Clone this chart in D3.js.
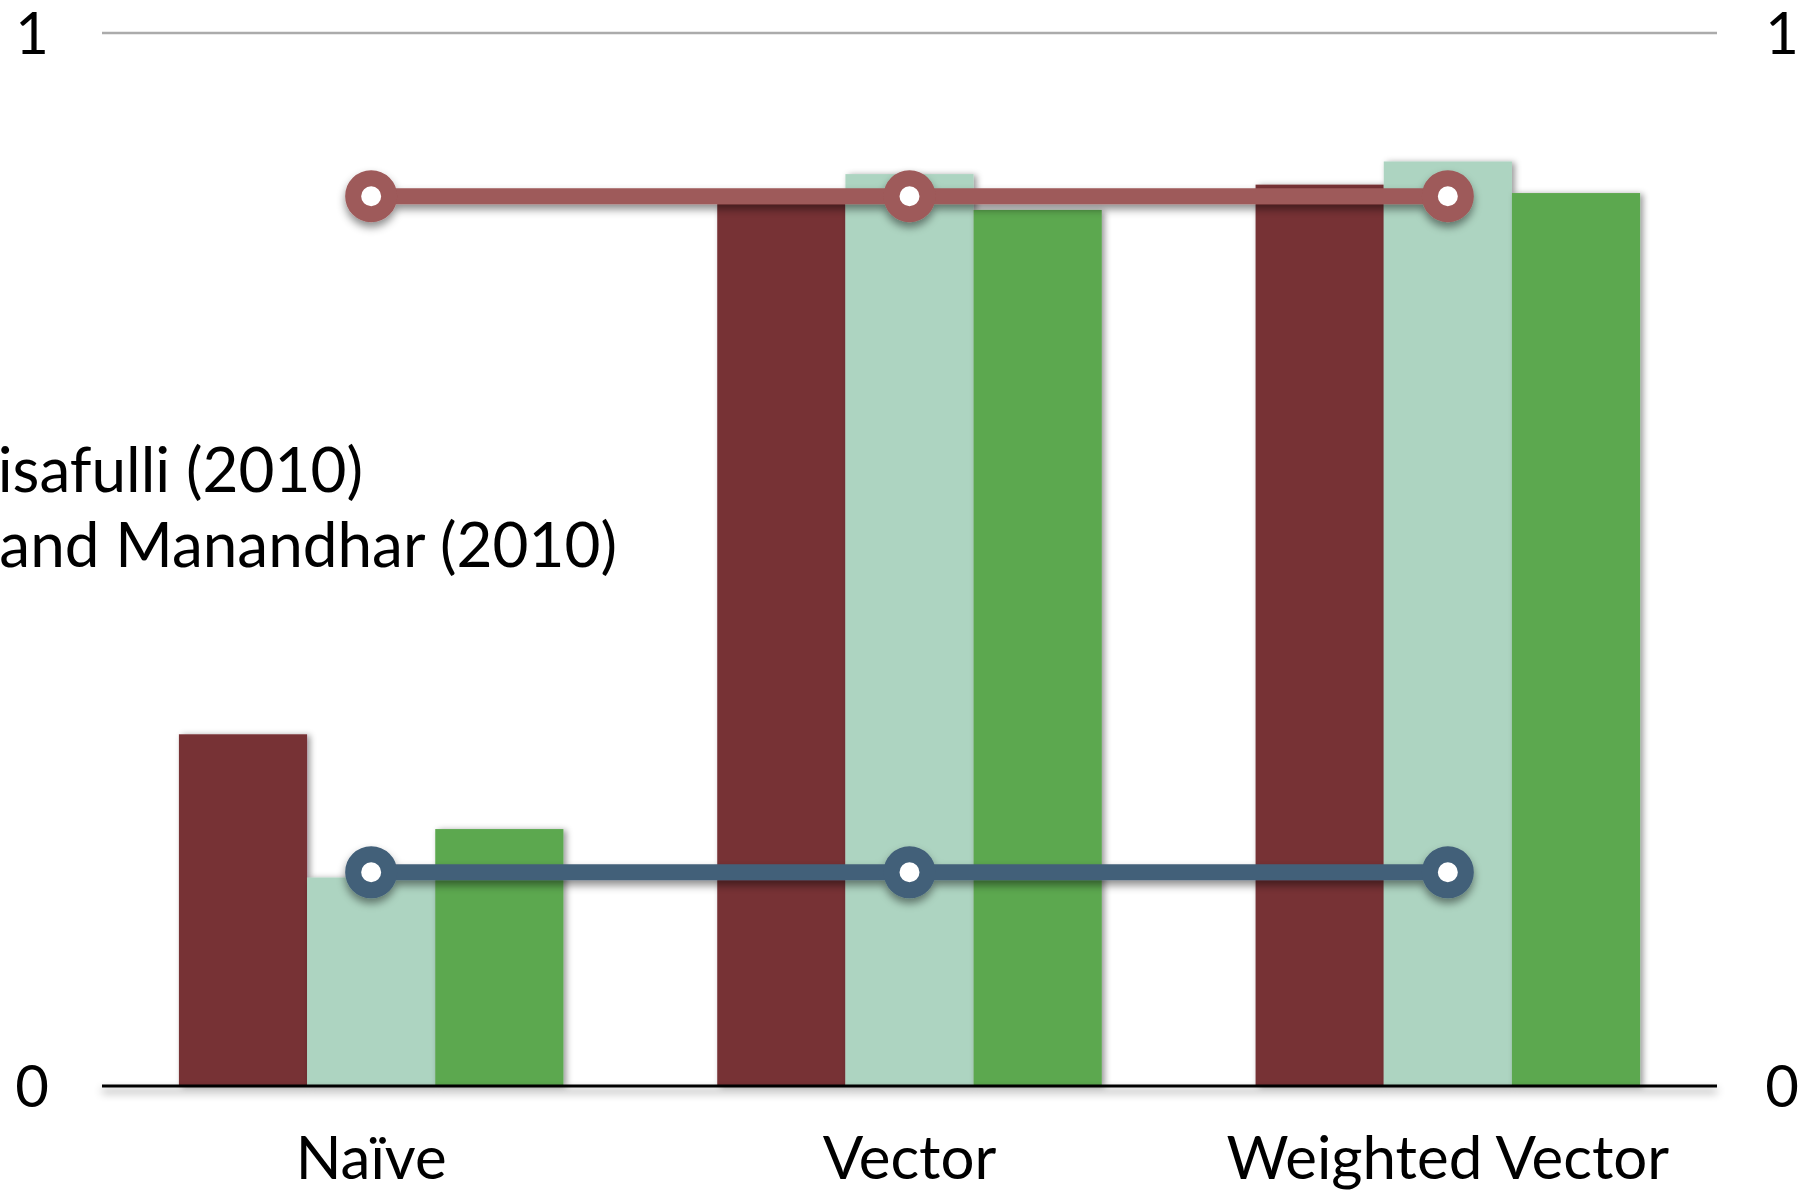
<!DOCTYPE html>
<html>
<head>
<meta charset="utf-8">
<script src="https://cdn.jsdelivr.net/npm/d3@7"></script>
<style>
  html, body { margin: 0; padding: 0; background: #fff; }
  svg { display: block; }
  text { font-family: Lato, "Open Sans", sans-serif; fill: #000; }
</style>
</head>
<body>
<svg id="chart" width="1805" height="1191"></svg>
<script>
// Methods compared on the x axis
const categories = ["Naïve", "Vector", "Weighted Vector"];
// Bar series (one value per method)
const seriesNames = ["s1", "s2", "s3"];
const seriesA = [0.334, 0.838, 0.856];
const seriesB = [0.198, 0.866, 0.878];
const seriesC = [0.244, 0.832, 0.848];
// Reference systems drawn as flat lines across the methods
const refUpper = [0.845, 0.845, 0.845];
const refLower = [0.203, 0.203, 0.203];
// Legend entries (the left part runs off the page)
const legendLines = ["isafulli (2010)", "and Manandhar (2010)"];
// Axis ticks
const yTicks = [0, 1];

const barColors = ["#773035", "#add4c1", "#5ca84f"];
const upperColor = "#9e5a5a";
const lowerColor = "#436079";

const svg = d3.select("#chart");
const plotLeft = 102, plotRight = 1717, plotTop = 33, plotBottom = 1086;

const defs = svg.append("defs");
defs.append("filter").attr("id", "barShadow")
  .attr("x", "-10%").attr("y", "-10%").attr("width", "130%").attr("height", "130%")
  .append("feDropShadow")
  .attr("dx", 3).attr("dy", 1).attr("stdDeviation", 3)
  .attr("flood-color", "#000").attr("flood-opacity", 0.4);
// Shadow for thin strokes: region given in page units so flat lines still render
defs.append("filter").attr("id", "lineShadow")
  .attr("filterUnits", "userSpaceOnUse")
  .attr("x", 0).attr("y", 0).attr("width", 1805).attr("height", 1191)
  .append("feDropShadow")
  .attr("dx", 0).attr("dy", 5).attr("stdDeviation", 4)
  .attr("flood-color", "#000").attr("flood-opacity", 0.45);

const x0 = d3.scaleBand().domain(categories).range([plotLeft, plotRight]).padding(0);
const x1 = d3.scaleBand().domain(seriesNames).range([0, x0.bandwidth()])
  .paddingInner(0).paddingOuter(0.6);
const y = d3.scaleLinear().domain([0, 1]).range([plotBottom, plotTop]);

// Top gridline at 1
svg.append("line")
  .attr("x1", plotLeft).attr("x2", plotRight)
  .attr("y1", y(1)).attr("y2", y(1))
  .attr("stroke", "#ababab").attr("stroke-width", 2.5);

// Bars
const series = [seriesA, seriesB, seriesC];
const barRows = categories.map((c, i) => seriesNames.map((s, j) => ({ c, s, v: series[j][i], color: barColors[j] })));
const gBars = svg.append("g");
barRows.forEach(row => {
  gBars.selectAll(null).data(row).enter().append("rect")
    .attr("x", d => x0(d.c) + x1(d.s))
    .attr("y", d => y(d.v))
    .attr("width", x1.bandwidth())
    .attr("height", d => y(0) - y(d.v))
    .attr("fill", d => d.color)
    .attr("filter", "url(#barShadow)");
});

// Baseline axis
svg.append("line")
  .attr("x1", plotLeft).attr("x2", plotRight)
  .attr("y1", y(0)).attr("y2", y(0))
  .attr("stroke", "#000").attr("stroke-width", 3)
  .attr("filter", "url(#lineShadow)");

// Reference lines with ring markers
function drawRef(values, color) {
  const g = svg.append("g").attr("filter", "url(#lineShadow)");
  const pts = categories.map((c, i) => [x0(c) + x0.bandwidth() / 2, y(values[i])]);
  g.append("path")
    .attr("d", d3.line()(pts))
    .attr("fill", "none").attr("stroke", color).attr("stroke-width", 16);
  g.selectAll("circle").data(pts).enter().append("circle")
    .attr("cx", d => d[0]).attr("cy", d => d[1])
    .attr("r", 18).attr("fill", "#fff")
    .attr("stroke", color).attr("stroke-width", 16);
}
drawRef(refUpper, upperColor);
drawRef(refLower, lowerColor);

// Y tick labels on both sides
const yAxisL = d3.axisLeft(y).tickValues(yTicks).tickFormat(d3.format("d")).tickSize(0).tickPadding(0);
const yAxisR = d3.axisRight(y).tickValues(yTicks).tickFormat(d3.format("d")).tickSize(0).tickPadding(0);
const gl = svg.append("g").attr("transform", "translate(32,0)").call(yAxisL);
const gr = svg.append("g").attr("transform", "translate(1782,0)").call(yAxisR);
[gl, gr].forEach(g => {
  g.select(".domain").remove();
  g.selectAll("text")
    .attr("text-anchor", "middle").attr("dy", "0.36em")
    .style("font-family", "Lato, sans-serif").style("font-size", "58px").attr("fill", "#000");
});

// Category labels
const xAxis = d3.axisBottom(x0).tickSize(0).tickPadding(0);
const gx = svg.append("g").attr("transform", "translate(0,1179)").call(xAxis);
gx.select(".domain").remove();
gx.selectAll("text")
  .attr("dy", 0).attr("y", 0)
  .style("font-family", "Lato, sans-serif").style("font-size", "60px").attr("fill", "#000");

// Legend text
svg.selectAll(".legend").data(legendLines).enter().append("text")
  .attr("class", "legend")
  .attr("x", (d, i) => i === 0 ? 363 : 617)
  .attr("y", (d, i) => 492 + i * 75)
  .attr("text-anchor", "end")
  .style("font-size", "62px")
  .text(d => d);
</script>
</body>
</html>
